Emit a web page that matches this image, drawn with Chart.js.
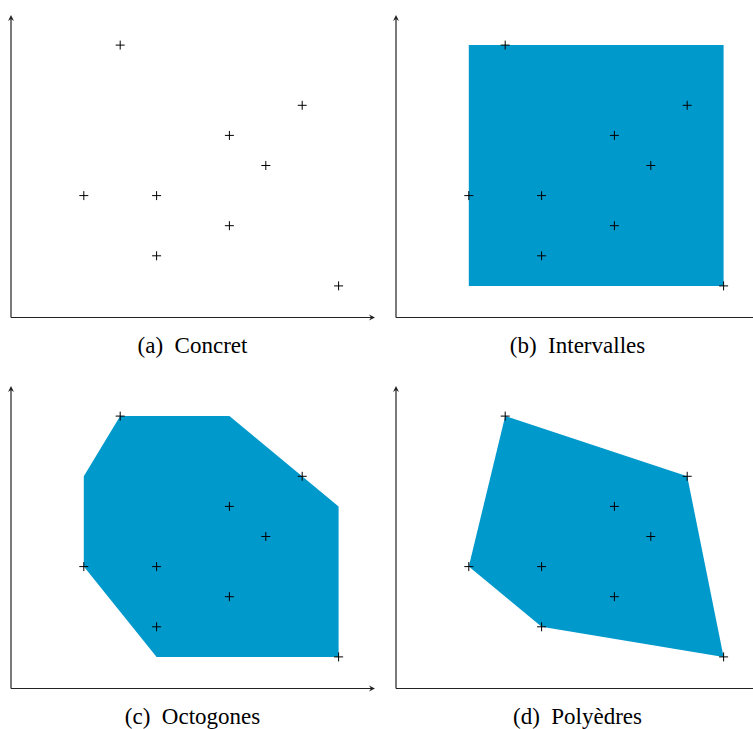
<!DOCTYPE html>
<html lang="fr">
<head>
  <meta charset="UTF-8">
  <title>Domaines abstraits</title>
  <script src="https://cdn.jsdelivr.net/npm/chart.js"></script>
  <style>
    body {
      margin: 0;
      background: #fff;
    }

    .panel {
      position: absolute;
    }

    .caption {
      position: absolute;
      width: 385px;
      text-align: center;
      font-family: "Liberation Serif", "DejaVu Serif", serif;
      font-size: 23px;
      line-height: 26px;
      white-space: pre;
      color: #000;
    }
  </style>
</head>
<body>

  <canvas id="chartA" class="panel" width="385" height="330" style="left:0;top:0"></canvas>
  <canvas id="chartB" class="panel" width="385" height="330" style="left:385px;top:0"></canvas>
  <canvas id="chartC" class="panel" width="385" height="330" style="left:0;top:371px"></canvas>
  <canvas id="chartD" class="panel" width="385" height="330" style="left:385px;top:371px"></canvas>

  <div class="caption" style="left:0;top:333px">(a)  Concret</div>
  <div class="caption" style="left:385px;top:333px">(b)  Intervalles</div>
  <div class="caption" style="left:0;top:704px">(c)  Octogones</div>
  <div class="caption" style="left:385px;top:704px">(d)  Polyèdres</div>

  <script>
    // points concrets
    const pointsX = [3, 8, 6, 7, 2, 4, 6, 4, 9];
    const pointsY = [9, 7, 6, 5, 4, 4, 3, 2, 1];

    // sommets des domaines abstraits
    const boxX = [2, 2, 9, 9, 2];
    const boxY = [1, 9, 9, 1, 1];
    const octX = [2, 3, 6, 9, 9, 4, 2, 2];
    const octY = [7, 9, 9, 6, 1, 1, 4, 7];
    const polyX = [3, 8, 9, 4, 2, 3];
    const polyY = [9, 7, 1, 2, 4, 9];

    const fillColor = '#0099cc';

    function toXY(xs, ys) {
      return xs.map((x, i) => ({ x: x, y: ys[i] }));
    }

    // axes avec flèches
    const arrowAxes = {
      id: 'arrowAxes',
      afterDatasetsDraw(chart) {
        const ctx = chart.ctx;
        const x0 = chart.scales.x.getPixelForValue(0);
        const y0 = chart.scales.y.getPixelForValue(0) + 1.5;
        const x1 = chart.scales.x.getPixelForValue(10);
        const y1 = chart.scales.y.getPixelForValue(10);
        ctx.save();
        ctx.strokeStyle = '#222';
        ctx.fillStyle = '#222';
        ctx.lineWidth = 1.2;
        ctx.beginPath();
        ctx.moveTo(x0, y0);
        ctx.lineTo(x1 - 2, y0);
        ctx.moveTo(x0, y0);
        ctx.lineTo(x0, y1 + 2);
        ctx.stroke();
        // pointe horizontale
        ctx.beginPath();
        ctx.moveTo(x1, y0);
        ctx.lineTo(x1 - 6, y0 - 3);
        ctx.lineTo(x1 - 4, y0);
        ctx.lineTo(x1 - 6, y0 + 3);
        ctx.closePath();
        ctx.fill();
        // pointe verticale
        ctx.beginPath();
        ctx.moveTo(x0, y1);
        ctx.lineTo(x0 - 3, y1 + 6);
        ctx.lineTo(x0, y1 + 4);
        ctx.lineTo(x0 + 3, y1 + 6);
        ctx.closePath();
        ctx.fill();
        ctx.restore();
      }
    };

    function makeChart(id, shapeX, shapeY) {
      const datasets = [{
        label: 'points',
        data: toXY(pointsX, pointsY),
        pointStyle: 'cross',
        pointRadius: 4.5,
        borderColor: '#000',
        backgroundColor: '#000',
        borderWidth: 1,
        showLine: false,
        order: 0
      }];
      if (shapeX) {
        datasets.push({
          label: 'domaine',
          data: toXY(shapeX, shapeY),
          showLine: true,
          pointRadius: 0,
          borderWidth: 0,
          borderColor: fillColor,
          backgroundColor: fillColor,
          fill: 'shape',
          tension: 0,
          order: 1
        });
      }
      return new Chart(document.getElementById(id), {
        type: 'scatter',
        data: { datasets: datasets },
        plugins: [arrowAxes],
        options: {
          responsive: false,
          animation: false,
          layout: {
            padding: { left: 11, right: 10, top: 15, bottom: 14 }
          },
          plugins: {
            legend: { display: false },
            tooltip: { enabled: false }
          },
          scales: {
            x: { type: 'linear', min: 0, max: 10, display: false },
            y: { type: 'linear', min: 0, max: 10, display: false }
          }
        }
      });
    }

    makeChart('chartA', null, null);
    makeChart('chartB', boxX, boxY);
    makeChart('chartC', octX, octY);
    makeChart('chartD', polyX, polyY);
  </script>

</body>
</html>
